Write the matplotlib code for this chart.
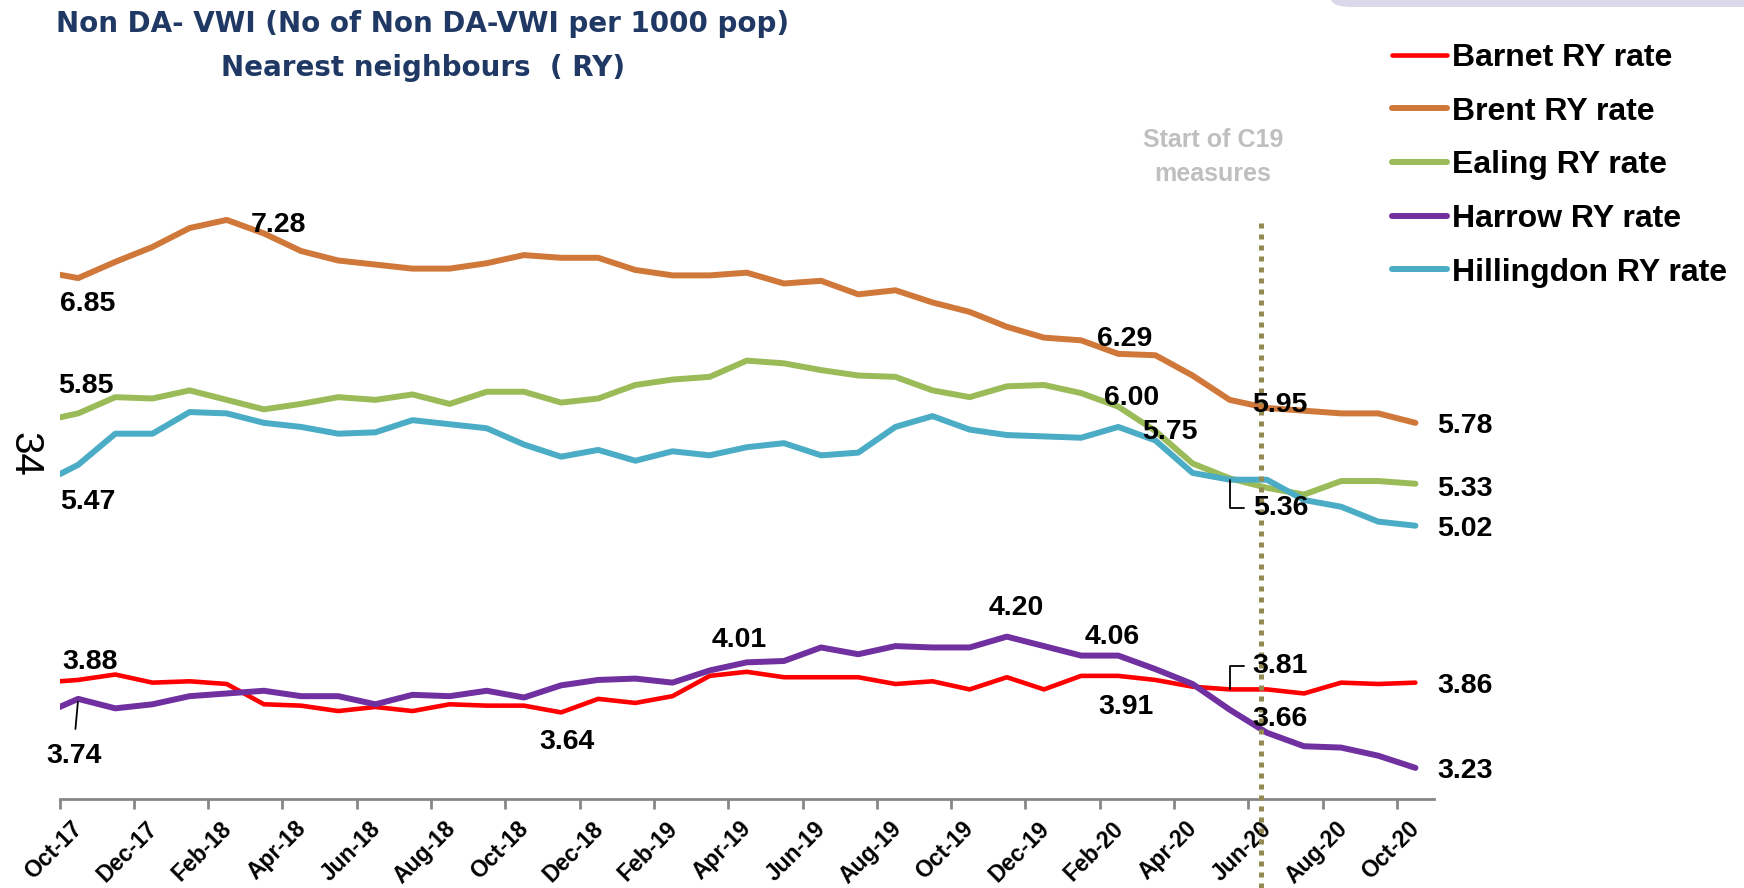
import numpy as np
import matplotlib.pyplot as plt
from matplotlib.patches import FancyBboxPatch
from matplotlib.transforms import ScaledTranslation

plt.rcParams['font.family'] = ['Liberation Sans', 'DejaVu Sans']

months = ['Sep-17', 'Oct-17', 'Nov-17', 'Dec-17', 'Jan-18', 'Feb-18', 'Mar-18', 'Apr-18',
          'May-18', 'Jun-18', 'Jul-18', 'Aug-18', 'Sep-18', 'Oct-18', 'Nov-18', 'Dec-18',
          'Jan-19', 'Feb-19', 'Mar-19', 'Apr-19', 'May-19', 'Jun-19', 'Jul-19', 'Aug-19',
          'Sep-19', 'Oct-19', 'Nov-19', 'Dec-19', 'Jan-20', 'Feb-20', 'Mar-20', 'Apr-20',
          'May-20', 'Jun-20', 'Jul-20', 'Aug-20', 'Sep-20', 'Oct-20']

tick_labels = ['Oct-17', 'Dec-17', 'Feb-18', 'Apr-18', 'Jun-18', 'Aug-18', 'Oct-18',
               'Dec-18', 'Feb-19', 'Apr-19', 'Jun-19', 'Aug-19', 'Oct-19', 'Dec-19',
               'Feb-20', 'Apr-20', 'Jun-20', 'Aug-20', 'Oct-20']

barnet = [3.86, 3.88, 3.92, 3.86, 3.87, 3.85, 3.70, 3.69, 3.65, 3.68, 3.65, 3.70, 3.69,
          3.69, 3.64, 3.74, 3.71, 3.76, 3.91, 3.94, 3.90, 3.90, 3.90, 3.85, 3.87, 3.81,
          3.90, 3.81, 3.91, 3.91, 3.88, 3.83, 3.81, 3.81, 3.78, 3.86, 3.85, 3.86]
brent = [6.90, 6.85, 6.97, 7.08, 7.22, 7.28, 7.18, 7.05, 6.98, 6.95, 6.92, 6.92, 6.96,
         7.02, 7.00, 7.00, 6.91, 6.87, 6.87, 6.89, 6.81, 6.83, 6.73, 6.76, 6.67, 6.60,
         6.49, 6.41, 6.39, 6.29, 6.28, 6.13, 5.95, 5.89, 5.87, 5.85, 5.85, 5.78]
ealing = [5.79, 5.85, 5.97, 5.96, 6.02, 5.95, 5.88, 5.92, 5.97, 5.95, 5.99, 5.92, 6.01,
          6.01, 5.93, 5.96, 6.06, 6.10, 6.12, 6.24, 6.22, 6.17, 6.13, 6.12, 6.02, 5.97,
          6.05, 6.06, 6.00, 5.90, 5.72, 5.48, 5.37, 5.30, 5.25, 5.35, 5.35, 5.33]
harrow = [3.62, 3.74, 3.67, 3.70, 3.76, 3.78, 3.80, 3.76, 3.76, 3.70, 3.77, 3.76, 3.80,
          3.75, 3.84, 3.88, 3.89, 3.86, 3.95, 4.01, 4.02, 4.12, 4.07, 4.13, 4.12, 4.12,
          4.20, 4.13, 4.06, 4.06, 3.96, 3.85, 3.66, 3.49, 3.39, 3.38, 3.32, 3.23]
hillingdon = [5.33, 5.47, 5.70, 5.70, 5.86, 5.85, 5.78, 5.75, 5.70, 5.71, 5.80, 5.77, 5.74,
              5.62, 5.53, 5.58, 5.50, 5.57, 5.54, 5.60, 5.63, 5.54, 5.56, 5.75, 5.83, 5.73,
              5.69, 5.68, 5.67, 5.75, 5.65, 5.41, 5.36, 5.36, 5.21, 5.16, 5.05, 5.02]

series = {
    'Barnet RY rate': (barnet, '#FF0000', 3.3),
    'Brent RY rate': (brent, '#D0783A', 4.3),
    'Ealing RY rate': (ealing, '#9BBB59', 4.3),
    'Harrow RY rate': (harrow, '#7030A0', 4.3),
    'Hillingdon RY rate': (hillingdon, '#4BACC6', 4.3),
}

# month index (Oct-17 = 0) of the C19 marker
c19_month = 32.34

# points sit mid-month
x = np.arange(len(months)) - 0.5

fig = plt.figure(figsize=(17.44, 8.88), dpi=100)
ax = fig.add_axes([59.6 / 1744, 1 - 799 / 888, (1434 - 59.6) / 1744, 676.5 / 888])

lines = {}
for name, (vals, col, lw) in series.items():
    ln, = ax.plot(x, vals, color=col, lw=lw, label=name,
                  solid_joinstyle='round', solid_capstyle='round')
    lines[name] = ln

ax.set_xlim(0, 37)
ax.set_ylim(3.0, 8.0)
ax.set_yticks([])
for s in ['left', 'right', 'top']:
    ax.spines[s].set_visible(False)
ax.spines['bottom'].set_color('#868686')
ax.spines['bottom'].set_linewidth(2)
ax.set_xticks(np.arange(0, 37, 2))
ax.set_xticklabels(tick_labels, rotation=45, ha='center', fontsize=16.5, fontweight='bold')
ax.tick_params(axis='x', length=7, width=2, color='#868686', pad=6)
shift = ScaledTranslation(-6 / 100, 0, fig.dpi_scale_trans)
for lab in ax.get_xticklabels():
    lab.set_transform(lab.get_transform() + shift)

# start of C19 measures
ax.axvline(c19_month, ymin=-0.1316, ymax=0.8515, clip_on=False, color='#948A54',
           lw=3.6, linestyle=(0, (1, 1.2)), zorder=5)
fig.text(1213 / 1744, 1 - 157 / 888, 'Start of C19\nmeasures', ha='center', va='center',
         color='#BFBFBF', fontsize=18, fontweight='bold', linespacing=1.5)

# data labels: (series, month index, dx, dy, ha)
labels = [
    ('Brent RY rate', 0, 10, -23, 'center'),
    ('Brent RY rate', 4, 24, -2, 'left'),
    ('Brent RY rate', 28, 6, 18, 'center'),
    ('Brent RY rate', 31, 22, -2, 'left'),
    ('Brent RY rate', 36, 22, 0, 'left'),
    ('Ealing RY rate', 0, 8, 30, 'center'),
    ('Ealing RY rate', 27, 23, -2, 'left'),
    ('Ealing RY rate', 36, 22, -2, 'left'),
    ('Hillingdon RY rate', 0, 10, -34, 'center'),
    ('Hillingdon RY rate', 28, 24, -2, 'left'),
    ('Hillingdon RY rate', 36, 22, 0, 'left'),
    ('Barnet RY rate', 0, 12, 21, 'center'),
    ('Barnet RY rate', 13, 6, -27, 'center'),
    ('Barnet RY rate', 28, 8, -28, 'center'),
    ('Barnet RY rate', 36, 22, 0, 'left'),
    ('Harrow RY rate', 18, -8, 25, 'center'),
    ('Harrow RY rate', 25, 9, 32, 'center'),
    ('Harrow RY rate', 28, -6, 22, 'center'),
    ('Harrow RY rate', 31, 23, -6, 'left'),
    ('Harrow RY rate', 36, 22, 0, 'left'),
]
for name, i, dx, dy, ha in labels:
    v = series[name][0][i + 1]
    ax.annotate(f'{v:.2f}', xy=(x[i + 1], v), xytext=(dx, dy), textcoords='offset pixels',
                ha=ha, va='center_baseline', fontsize=20.5, fontweight='bold', zorder=6,
                annotation_clip=False)

# labels with leader lines
elbow = dict(arrowstyle='-', color='black', lw=1.3, relpos=(0, 0.5), shrinkA=4, shrinkB=0,
             connectionstyle='angle,angleA=180,angleB=90,rad=0')
for name, i, dy in [('Hillingdon RY rate', 31, -25), ('Barnet RY rate', 31, 26)]:
    v = series[name][0][i + 1]
    ax.annotate(f'{v:.2f}', xy=(x[i + 1], v), xytext=(23, dy), textcoords='offset pixels',
                ha='left', va='center_baseline', fontsize=20.5, fontweight='bold', zorder=6,
                arrowprops=elbow)
ax.annotate(f'{harrow[1]:.2f}', xy=(x[1], harrow[1]), xytext=(-4, -54),
            textcoords='offset pixels', ha='center', va='center_baseline', fontsize=20.5,
            fontweight='bold', zorder=6,
            arrowprops=dict(arrowstyle='-', color='black', lw=1.3, relpos=(0.5, 1),
                            shrinkA=8, shrinkB=2))

fig.legend(handles=list(lines.values()), loc='upper left',
           bbox_to_anchor=(1392 / 1744, 1 - 43 / 888), frameon=False,
           prop={'size': 23, 'weight': 'bold'}, handlelength=1.72, handletextpad=0.16,
           labelspacing=0.74, borderpad=0, borderaxespad=0)

title_font = dict(ha='center', va='center', color='#1F3864', fontsize=20,
                  fontweight='bold', family=['DejaVu Sans'])
fig.text(423 / 1744, 1 - 24 / 888, 'Non DA- VWI (No of Non DA-VWI per 1000 pop)', **title_font)
fig.text(423 / 1744, 1 - 68 / 888, 'Nearest neighbours  ( RY)', **title_font)

fig.text(24 / 1744, 1 - 454 / 888, '34', rotation=270, ha='center', va='center', fontsize=29)

# slide decoration at top right
fig.patches.append(FancyBboxPatch((1330 / 1744, 1 - 7 / 888), 0.3, 0.05,
                                  boxstyle='round,pad=0,rounding_size=0.012',
                                  transform=fig.transFigure, fc='#DCD8EC', ec='none'))

fig.savefig('out.png', dpi=100)
